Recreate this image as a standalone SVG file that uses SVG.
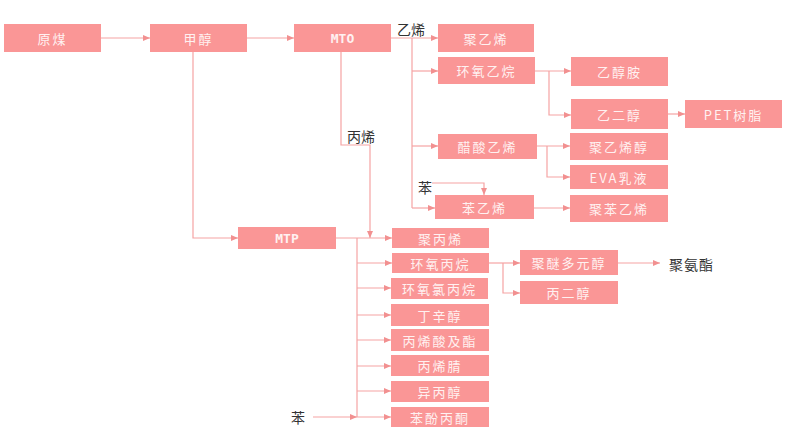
<svg xmlns="http://www.w3.org/2000/svg" width="786" height="434" viewBox="0 0 786 434">
<style>
.box rect{fill:#FA9696;}
.box text{fill:#FFF1F1;font-family:"Noto Sans CJK SC","Liberation Sans",sans-serif;font-size:13px;letter-spacing:2px;text-anchor:middle;dominant-baseline:central;}
.box text.b{font-weight:bold;font-family:"DejaVu Sans Mono","Liberation Mono",monospace;letter-spacing:0;}
.lbl{fill:#333;font-family:"Noto Sans CJK SC","Liberation Sans",sans-serif;font-size:14px;dominant-baseline:central;}
.c path{fill:none;stroke:#F5A3A3;stroke-width:1.2;}
.c path.a{marker-end:url(#arr);}
</style>
<defs>
<marker id="arr" markerUnits="userSpaceOnUse" markerWidth="7" markerHeight="6" refX="7" refY="3" orient="auto">
<path d="M0,0 L7,3 L0,6 z" fill="#F29090"/>
</marker>
</defs>
<rect width="786" height="434" fill="#fff"/>
<g class="c" id="connectors">
<path class="a" d="M101,38 H150"/>
<path class="a" d="M247,38 H294"/>
<path class="a" d="M391,38 H438"/>
<path d="M412,38 V208"/>
<path class="a" d="M412,71 H438"/>
<path class="a" d="M412,146 H438"/>
<path class="a" d="M412,208 H435"/>
<path class="a" d="M535,71 H571"/>
<path class="a" d="M549,71 V115 H571"/>
<path class="a" d="M668,114 H685"/>
<path class="a" d="M537,146 H570"/>
<path class="a" d="M547,146 V177 H570"/>
<path class="a" d="M432,183 H484 V195"/>
<path class="a" d="M534,208 H570"/>
<path class="a" d="M341,52 V145 H370 V238"/>
<path class="a" d="M193,52 V238 H238"/>
<path class="a" d="M336,238 H392"/>
<path d="M357,238 V417"/>
<path class="a" d="M357,263 H392"/>
<path class="a" d="M357,288 H391"/>
<path class="a" d="M357,315 H391"/>
<path class="a" d="M357,340 H391"/>
<path class="a" d="M357,366 H391"/>
<path class="a" d="M357,391 H391"/>
<path class="a" d="M357,417 H391"/>
<path class="a" d="M313,417 H357"/>
<path class="a" d="M489,263 H520"/>
<path class="a" d="M503,263 V293 H520"/>
<path class="a" d="M618,263 H660"/>
</g>
<g id="labels">
<text class="lbl" x="397" y="29">乙烯</text>
<text class="lbl" x="347" y="136">丙烯</text>
<text class="lbl" x="418" y="187">苯</text>
<text class="lbl" x="291" y="417">苯</text>
<text class="lbl" x="669" y="264" style="letter-spacing:1px">聚氨酯</text>
</g>
<g class="box" id="n-yuanmei"><rect x="4" y="24" width="97" height="28"/><text x="52.5" y="38">原煤</text></g>
<g class="box" id="n-jiachun"><rect x="150" y="24" width="97" height="28"/><text x="198.5" y="38">甲醇</text></g>
<g class="box" id="n-mto"><rect x="294" y="24" width="97" height="28"/><text class="b" x="342.5" y="38">MTO</text></g>
<g class="box" id="n-pe"><rect x="438" y="24" width="96" height="28"/><text x="486" y="38">聚乙烯</text></g>
<g class="box" id="n-eo"><rect x="438" y="57" width="97" height="27"/><text x="486.5" y="70.5">环氧乙烷</text></g>
<g class="box" id="n-eoa"><rect x="571" y="57" width="97" height="29"/><text x="619.5" y="71.5">乙醇胺</text></g>
<g class="box" id="n-meg"><rect x="571" y="99" width="97" height="30"/><text x="619.5" y="114">乙二醇</text></g>
<g class="box" id="n-pet"><rect x="685" y="100" width="97" height="28"/><text x="733.5" y="114">PET树脂</text></g>
<g class="box" id="n-vac"><rect x="438" y="134" width="99" height="25"/><text x="487.5" y="146.5">醋酸乙烯</text></g>
<g class="box" id="n-pva"><rect x="570" y="133" width="98" height="27"/><text x="619" y="146.5">聚乙烯醇</text></g>
<g class="box" id="n-eva"><rect x="570" y="165" width="98" height="24"/><text x="619" y="177">EVA乳液</text></g>
<g class="box" id="n-sm"><rect x="435" y="195" width="99" height="24"/><text x="484.5" y="207">苯乙烯</text></g>
<g class="box" id="n-ps"><rect x="570" y="195" width="98" height="27"/><text x="619" y="208.5">聚苯乙烯</text></g>
<g class="box" id="n-mtp"><rect x="238" y="227" width="98" height="22"/><text class="b" x="287" y="238">MTP</text></g>
<g class="box" id="n-pp"><rect x="392" y="228" width="97" height="20"/><text x="440.5" y="238">聚丙烯</text></g>
<g class="box" id="n-po"><rect x="392" y="253" width="97" height="20"/><text x="440.5" y="263">环氧丙烷</text></g>
<g class="box" id="n-ech"><rect x="391" y="278" width="97" height="21"/><text x="439.5" y="288.5">环氧氯丙烷</text></g>
<g class="box" id="n-oxo"><rect x="391" y="304" width="98" height="22"/><text x="440" y="315">丁辛醇</text></g>
<g class="box" id="n-aa"><rect x="391" y="329" width="98" height="22"/><text x="440" y="340">丙烯酸及酯</text></g>
<g class="box" id="n-an"><rect x="391" y="355" width="98" height="21"/><text x="440" y="365.5">丙烯腈</text></g>
<g class="box" id="n-ipa"><rect x="391" y="381" width="98" height="21"/><text x="440" y="391.5">异丙醇</text></g>
<g class="box" id="n-phenol"><rect x="391" y="407" width="98" height="20"/><text x="440" y="417">苯酚丙酮</text></g>
<g class="box" id="n-ppg"><rect x="520" y="250" width="98" height="25"/><text x="569" y="262.5">聚醚多元醇</text></g>
<g class="box" id="n-pg"><rect x="520" y="281" width="98" height="23"/><text x="569" y="292.5">丙二醇</text></g>
</svg>
